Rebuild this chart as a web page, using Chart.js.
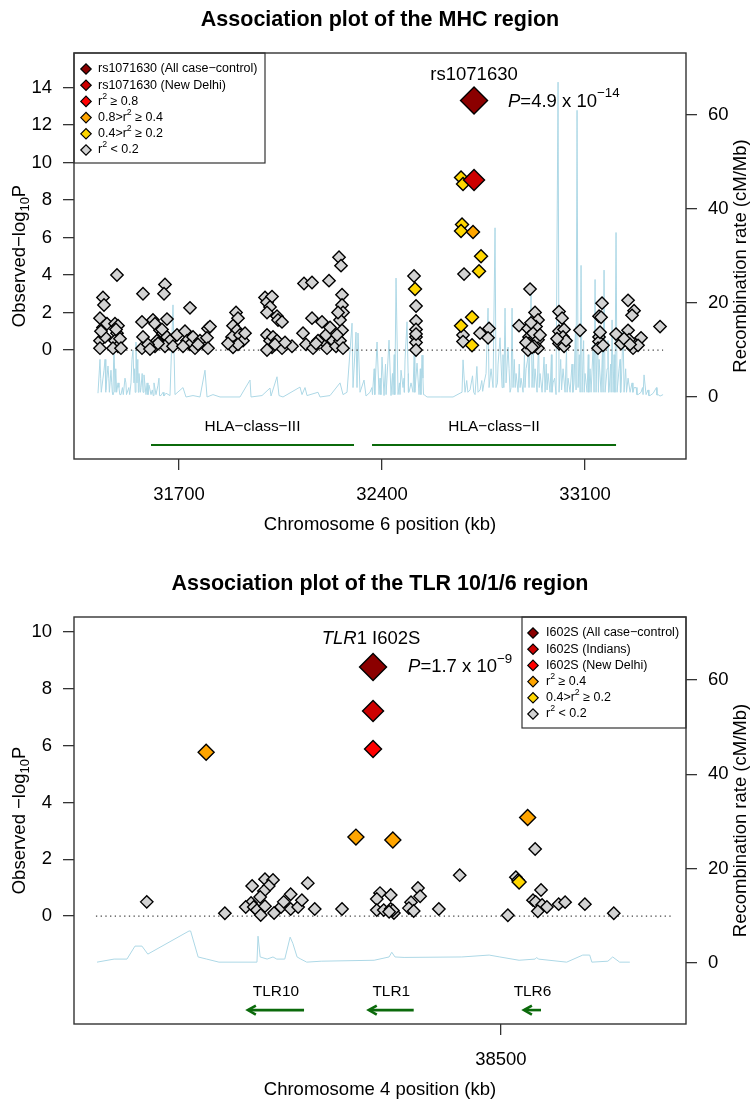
<!DOCTYPE html>
<html><head><meta charset="utf-8">
<script src="https://cdn.jsdelivr.net/npm/chart.js@4.4.1/dist/chart.umd.min.js"></script>
<style>html,body{margin:0;padding:0;background:#fff;}canvas{display:block;}</style>
</head><body>
<canvas id="c1" width="752" height="552"></canvas>
<canvas id="c2" width="752" height="552"></canvas>
<script>
// ================= DATA : MHC region (chromosome 6, kb / -log10P) =================
const mhcXTicks = [31700, 32400, 33100];
const mhcYTicks = [0, 2, 4, 6, 8, 10, 12, 14];
const mhcRecTicks = [0, 20, 40, 60];
const mhcLeadAll = [[32717.2, 13.31]];
const mhcLeadDelhi = [[32717.2, 9.07]];
const mhcR2High = [];
const mhcR2Mid = [[32713.7, 6.3]];
const mhcR2Low = [[32513.8,3.25],[32672.3,9.2],[32679.2,8.85],[32675.8,6.7],[32672.3,6.35],[32741.3,5.0],[32734.4,4.2],[32710.3,1.75],[32672.3,1.3],[32710.3,0.25]];
const mhcR2None = [
 [31427.6,1.7],[31437.9,2.8],[31441.4,2.4],[31427.6,0.5],[31437.9,1.2],[31427.6,0.1],[31444.8,0.7],[31431.0,1.0],[31451.7,1.4],
 [31486.2,4.0],[31479.3,1.4],[31489.7,1.3],[31486.2,0.9],[31479.3,0.5],[31489.7,0.2],[31472.4,0.1],[31482.8,1.1],[31496.6,0.6],[31500.0,0.1],
 [31575.9,3.0],[31572.4,1.5],[31575.9,0.7],[31572.4,0.1],[31610.3,1.6],[31617.2,1.4],[31624.1,0.5],[31617.2,0.2],[31651.7,3.5],[31648.3,3.0],
 [31658.6,1.65],[31634.5,1.05],[31644.8,0.9],[31658.6,0.7],[31669.0,0.5],[31651.7,0.2],[31679.3,0.2],[31641.4,1.1],[31627.6,0.35],[31693.1,0.8],[31593.1,0.3],[31600.0,0.05],
 [31737.9,2.25],[31720.7,1.0],[31727.6,0.5],[31737.9,0.3],[31748.3,0.7],[31755.2,0.1],[31713.8,0.2],[31772.4,0.5],[31800.0,1.15],[31806.9,1.25],[31796.6,0.65],[31800.0,0.1],[31765.5,0.3],
 [31896.6,2.0],[31903.4,1.7],[31886.2,1.3],[31900.0,1.05],[31882.8,0.7],[31910.3,0.8],[31920.7,0.5],[31886.2,0.15],[31903.4,0.3],[31869.0,0.35],[31927.6,0.9],
 [31996.6,2.8],[32003.4,2.55],[32020.7,2.85],[32013.8,2.3],[32003.4,2.0],[32037.9,1.8],[32041.4,1.6],[32055.2,1.5],[32003.4,0.8],[32013.8,0.5],[32024.1,0.7],[32037.9,0.5],
 [32020.7,0.15],[32055.2,0.1],[32089.6,0.2],[32003.4,0.0],[32031.0,0.3],[32065.5,0.4],
 [32131.0,3.55],[32158.6,3.6],[32217.2,3.7],[32251.7,4.95],[32258.6,4.5],[32127.6,0.9],[32137.9,0.3],[32158.6,1.7],[32162.1,0.1],[32193.1,1.5],[32196.6,0.5],
 [32206.9,0.8],[32220.7,1.2],[32210.3,0.1],[32231.0,0.5],[32241.4,0.2],[32262.1,2.95],[32262.1,2.4],[32265.5,2.0],[32255.2,1.6],[32262.1,1.05],[32255.2,0.5],
 [32265.5,0.1],[32248.3,2.0],[32244.8,0.8],[32179.3,0.5],[32172.4,0.35],
 [32510.3,3.95],[32517.2,2.35],[32517.2,1.55],[32517.2,1.1],[32517.2,0.7],[32517.2,0.4],[32517.2,0.0],[32517.2,0.85],
 [32682.7,4.05],[32679.2,0.8],[32679.2,0.45],[32737.9,0.9],[32768.9,1.15],[32765.5,0.65],
 [32910.3,3.25],[32872.3,1.3],[32903.4,1.15],[32906.8,0.7],[32906.8,0.35],[32903.4,0.0],[32927.5,2.0],[32937.8,1.6],[32931.0,1.25],[32920.6,0.9],[32937.8,0.55],
 [32937.8,0.1],[32913.7,1.45],[32924.1,0.2],[32944.7,0.8],[32896.5,0.4],[32917.2,0.15],
 [33010.2,2.05],[33020.6,1.7],[33010.2,1.0],[33027.5,1.1],[33024.0,0.7],[33010.2,0.35],[33027.5,0.2],[33034.4,0.5],[33003.4,0.6],[33082.6,1.05],
 [33158.5,2.5],[33148.2,1.8],[33155.1,1.75],[33148.2,0.7],[33148.2,0.45],[33144.7,0.1],[33162.0,0.25],[33151.6,0.95],
 [33248.2,2.65],[33268.9,2.1],[33262.0,1.85],[33206.8,0.85],[33248.2,1.05],[33224.0,0.35],[33251.6,0.55],[33265.4,0.1],[33293.0,0.65],[33282.6,0.25],[33358.5,1.25],[33234.4,0.6],[33255.1,0.3]
];
// recombination rate (kb, cM/Mb): main spikes
const mhcRecomb = [
 [31420.7,0.8],[31427.6,8],[31434.5,1],[31441.4,5.7],[31448.3,1.5],[31455.2,6.6],[31462.1,1],[31465.5,5.7],[31472.4,0.5],[31475.9,12],[31479.3,1],[31489.7,3],[31500.0,0.5],
 [31513.8,4],[31520.7,0.5],[31534.5,3],[31537.9,8],[31541.4,10],[31544.8,3],[31551.7,11.7],[31555.2,3],[31562.1,5],[31569.0,2],[31579.3,4.7],[31586.2,0.5],[31596.6,2.5],
 [31603.5,0.5],[31613.8,3],[31620.7,0.5],[31627.6,2.5],[31637.9,0.3],[31655.2,0.8],[31669.0,0.3],[31679.3,19.6],[31686.2,0.5],[31713.8,2],[31724.1,0],[31748.3,0.3],
 [31772.4,0],[31789.6,5.7],[31796.6,0],[31817.2,0.5],[31841.4,0],[31910.3,0],[31944.8,3.6],[31948.3,0],[31986.2,0.3],[32013.8,1.9],[32017.2,0.2],[32037.9,4.3],
 [32044.8,0.3],[32058.6,0],[32117.2,2.1],[32124.1,0.5],[32134.5,2],[32141.4,0.3],[32179.3,1],[32186.2,0],[32220.7,0.3],[32255.2,3],[32265.5,0.5],[32279.3,1],
 [32296.6,15.7],[32300.0,2],[32310.3,13.8],[32313.8,2],[32317.2,13.6],[32324.1,1],[32337.9,3.6],[32344.8,0.2],[32358.6,1],[32382.8,11.7],[32389.7,0.5],[32400.0,8.5],
 [32406.9,0.3],[32424.1,12.1],[32431.0,0.3],[32448.3,25.3],[32455.2,0.5],[32465.5,5.7],[32472.4,2],[32479.3,7.9],[32486.2,16],[32493.1,1],[32500.0,3],[32506.9,1],
 [32520.7,7.2],[32527.6,0.5],[32537.9,8.9],[32544.8,0.5],[32555.2,0],[32600,0],[32644.8,0],[32668.9,0.8],[32675.8,1],[32679.3,7.9],[32686.2,1],[32703.4,1.5],
 [32720.7,0.5],[32737.9,1.5],[32751.7,3],[32758.6,5],[32765.5,18.9],[32769.0,2],[32775.9,6],[32782.8,2],[32789.6,36],[32793.1,2],[32800.0,7],[32806.9,12.6],
 [32813.8,2],[32824.1,18.9],[32827.6,3],[32834.5,10.6],[32841.4,1],[32848.3,18.9],[32851.7,2],[32862.1,5],[32869.0,1],[32879.3,4],[32886.2,1],[32896.6,6],
 [32903.4,8.5],[32906.9,2],[32913.8,22],[32917.2,2],[32927.6,6],[32934.5,1],[32944.8,5],[32951.7,1],[32958.6,8.5],[32962.1,1],[32972.4,5],[32979.3,1],[32989.7,3],
 [33000,0.5],[33006.9,67],[33010.3,1],[33024.1,6],[33031.0,1],[33041.4,4],[33048.3,1],[33062.1,3],[33072.4,61],[33075.9,2],[33086.2,28],[33089.7,1],[33100,5],
 [33106.9,1],[33117.2,6],[33120.7,1],[33134.5,25],[33137.9,1],[33148.3,8],[33155.2,1],[33165.5,27],[33169.0,1],[33175.9,6],[33182.8,1],[33193.1,16.4],[33196.6,1],
 [33206.8,35],[33210.3,1],[33217.2,6],[33224.1,1],[33231.0,14.3],[33234.5,1],[33248.3,4],[33255.2,1],[33269.0,2],[33282.8,0.5],[33293.1,1],[33303.4,4.7],
 [33310.3,0.5],[33324.1,0.3],[33341.4,1.5],[33351.7,0.5],[33358.6,0.2],[33369.0,0.5]
];
// recombination rate (kb, cM/Mb): smaller spikes of the dense stretches
const mhcRecombMinor = [
 [31430,4],[31432,1],[31445,8],[31447,1],[31458,4],[31460,1],[31468,3],[31470,1],[31482,6],[31485,1],[31493,2],[31496,0.5],[31505,2],[31508,0.5],
 [31517,3],[31519,0.5],[31527,2],[31530,0.5],[31547,6],[31549,1],[31558,8],[31560,1],[31565,3],[31567,1],[31573,5],[31576,1],[31590,3],[31593,0.5],
 [31608,1.5],[31611,0.3],[31631,4],[31633,0.3],[31645,1],[31648,0.2],
 [32365,2],[32367,0.5],[32373,6],[32375,0.5],[32393,4],[32396,0.5],[32412,7],[32414,0.5],[32436,5],[32438,0.5],[32442,9],[32444,0.5],[32460,3],[32462,0.5],
 [32476,4],[32477,1],[32490,5],[32491,1],[32511,10],[32513,1],[32532,6],[32534,0.5],[32541,4],[32543,0.5],
 [32692,3.5],[32696,1],[32712,4.5],[32716,1],[32727,6.5],[32731,1],[32744,3.5],[32747,1.2],[32798,3],[32817,9],[32820,2],[32838,6],[32845,2],[32856,8],
 [32859,2],[32873,7],[32876,2],[32891,9],[32893,2],[32922,10],[32924,2],[32940,12],[32942,2],[32966,7],[32969,1.5],[32984,9],[32986,1],[32995,4],
 [33016,8],[33019,1.5],[33036,10],[33038,1],[33055,7],[33058,1],[33067,15],[33069,1.5],[33080,9],[33083,1],[33095,12],[33097,1],[33111,9],[33113,1],
 [33128,11],[33131,1],[33143,14],[33146,1],[33160,10],[33162,1],[33179,12],[33181,1],[33188,7],[33190,1],[33200,9],[33203,1],[33221,8],[33222,1],
 [33240,6],[33243,1],[33262,3],[33265,1],[33276,2],[33279,0.5],[33298,2],[33300,0.5],[33317,1.5],[33320,0.3],[33335,0.8],[33346,2],[33348,0.4]
];
const mhcGenes = [
 {name: 'HLA\u2212class\u2212III', start: 31603.5, end: 32303.4, strand: ''},
 {name: 'HLA\u2212class\u2212II', start: 32365.5, end: 33206.8, strand: ''}
];
const mhcLabels = ['rs1071630 (All case\u2212control)', 'rs1071630 (New Delhi)', 'r\u00b2 \u2265 0.8', '0.8>r\u00b2 \u2265 0.4', '0.4>r\u00b2 \u2265 0.2', 'r\u00b2 < 0.2'];

// ================= DATA : TLR 10/1/6 region (chromosome 4) =================
const tlrXTicks = [38500];
const tlrYTicks = [0, 2, 4, 6, 8, 10];
const tlrRecTicks = [0, 20, 40, 60];
const tlrLeadAll = [[38476.1, 8.77]];
const tlrLeadIndians = [[38476.1, 7.22]];
const tlrLeadDelhi = [[38476.1, 5.88]];
const tlrR2Mid = [[38444.9,5.77],[38472.9,2.78],[38479.8,2.68],[38505.0,3.47]];
const tlrR2Low = [[38503.4,1.2]];
const tlrR2None = [
 [38433.8,0.5],[38448.4,0.1],[38453.5,1.06],[38455.9,1.3],[38457.4,1.27],[38456.6,1.06],[38455.7,0.88],[38455.0,0.67],[38453.3,0.46],[38452.3,0.32],
 [38453.8,0.32],[38454.4,0.21],[38455.1,0.04],[38455.9,0.35],[38457.6,0.11],[38458.9,0.32],[38459.4,0.5],[38460.7,0.77],[38460.7,0.25],[38462.1,0.32],
 [38462.8,0.56],[38463.9,1.16],[38465.2,0.25],[38470.3,0.25],[38477.4,0.81],[38476.8,0.6],[38479.4,0.74],[38476.8,0.21],[38478.1,0.21],[38479.4,0.25],
 [38480.0,0.11],[38479.8,0.2],[38479.1,0.15],[38483.2,0.49],[38484.5,0.99],[38484.9,0.7],[38482.8,0.28],[38483.7,0.18],[38488.4,0.25],[38492.3,1.44],
 [38501.3,0.03],[38502.8,1.37],[38503.2,1.27],[38506.4,2.36],[38507.5,0.92],[38506.0,0.56],[38506.5,0.5],[38507.7,0.39],[38508.6,0.32],[38506.9,0.17],
 [38510.8,0.42],[38512.0,0.49],[38515.7,0.42],[38521.1,0.1]
];
const tlrRecomb = [
 [38424.5,0.2],[38427.7,0.85],[38430.1,0.85],[38431.6,3.6],[38432.9,3.6],[38434.0,1.9],[38441.7,6.8],[38442.0,6.8],[38443.4,1.3],[38445.0,0.85],[38447.3,0.2],
 [38454.4,0.2],[38454.6,5.7],[38455.0,1.3],[38456.3,0.85],[38457.4,1.3],[38458.1,0.85],[38459.6,0.85],[38460.6,5.5],[38461.1,4.2],[38461.9,1.3],[38462.6,0.85],
 [38463.7,0.2],[38466.4,0.4],[38476.3,0.6],[38479.1,1.3],[38479.6,2.3],[38480.2,1.3],[38481.9,1.2],[38492.7,1.3],[38497.8,1.7],[38499.8,1.3],[38503.4,0.6],
 [38506.4,0.85],[38506.7,1.2],[38507.0,0.85],[38512.3,0.2],[38515.3,1.7],[38516.6,1.7],[38517.0,0.2],[38520.0,0.4],[38520.9,1.3],[38522.2,0.2],[38524.1,0.2]
];
const tlrRecombMinor = [];
const tlrGenes = [
 {name: 'TLR10', start: 38452.7, end: 38463.2, strand: '-'},
 {name: 'TLR1', start: 38475.3, end: 38483.7, strand: '-'},
 {name: 'TLR6', start: 38504.3, end: 38507.5, strand: '-'}
];
const tlrLabels = ['I602S (All case\u2212control)', 'I602S (Indians)', 'I602S (New Delhi)', 'r\u00b2 \u2265 0.4', '0.4>r\u00b2 \u2265 0.2', 'r\u00b2 < 0.2'];

// ================= RENDERING =================
const FONT = "'Liberation Sans', Arial, Helvetica, sans-serif";
const COLORS = {darkred: '#8B0000', red3: '#CD0000', red: '#FF0000', orange: '#FFA500', gold: '#FFD700', grey: '#D3D3D3'};
const toXY = arr => arr.map(p => ({x: p[0], y: p[1]}));
const mergeSorted = (a, b) => a.concat(b).sort((p, q) => p[0] - q[0]);

function fontStr(size, style) { return (style || '') + ' ' + size + 'px ' + FONT; }
function rich(ctx, parts, x, y, align, size, rot) {
  ctx.save();
  ctx.translate(x, y);
  if (rot) ctx.rotate(rot);
  ctx.textBaseline = 'middle';
  ctx.textAlign = 'left';
  ctx.fillStyle = '#000';
  const meas = parts.map(p => {
    const s = (p.sup || p.sub) ? size * (p.scale || 0.72) : size;
    const f = fontStr(s, (p.it ? 'italic ' : '') + (p.b ? 'bold' : ''));
    ctx.font = f;
    return {f, w: ctx.measureText(p.t).width, dy: p.sup ? -size * 0.42 : (p.sub ? size * 0.3 : 0)};
  });
  const tot = meas.reduce((a, m) => a + m.w, 0);
  let cx = align === 'center' ? -tot / 2 : (align === 'right' ? -tot : 0);
  parts.forEach((p, i) => { ctx.font = meas[i].f; ctx.fillText(p.t, cx, meas[i].dy); cx += meas[i].w; });
  ctx.restore();
}
function labelParts(s) {
  const out = [];
  s.split('\u00b2').forEach((seg, i) => { if (i > 0) out.push({t: '2', sup: true, scale: 0.7}); if (seg) out.push({t: seg}); });
  return out;
}
function diamond(ctx, x, y, r, fill) {
  ctx.beginPath();
  ctx.moveTo(x - r, y); ctx.lineTo(x, y - r); ctx.lineTo(x + r, y); ctx.lineTo(x, y + r); ctx.closePath();
  ctx.fillStyle = fill; ctx.fill();
  ctx.strokeStyle = '#000'; ctx.lineWidth = 1.2; ctx.stroke();
}

const deco = {
  id: 'deco',
  afterDatasetsDraw(chart, args, o) {
    const {ctx, scales: {x, y}} = chart;
    ctx.save();
    o.genes.forEach(g => {
      const x1 = x.getPixelForValue(g.start), x2 = x.getPixelForValue(g.end);
      const ly = y.getPixelForValue(o.geneLineY), ty = y.getPixelForValue(o.geneLabelY);
      ctx.strokeStyle = '#0b6a0b';
      ctx.lineWidth = o.geneLW;
      ctx.lineCap = 'butt';
      ctx.beginPath(); ctx.moveTo(x1 + (g.strand === '-' ? 1 : 0), ly); ctx.lineTo(x2, ly); ctx.stroke();
      if (g.strand === '-') {
        ctx.beginPath();
        ctx.moveTo(x1 + 8, ly - 4.5); ctx.lineTo(x1, ly); ctx.lineTo(x1 + 8, ly + 4.5);
        ctx.stroke();
      }
      rich(ctx, [{t: g.name}], (x1 + x2) / 2, ty, 'center', o.geneFont);
    });
    ctx.restore();
  },
  afterDraw(chart, args, o) {
    const {ctx, chartArea: a, scales: {x, y}} = chart;
    ctx.save();
    // legend box
    const L = o.legend;
    const lx = L.right ? a.right - L.w : a.left;
    ctx.fillStyle = '#fff';
    ctx.fillRect(lx, a.top, L.w, L.h);
    ctx.strokeStyle = '#333'; ctx.lineWidth = 1.2;
    ctx.strokeRect(lx, a.top, L.w, L.h);
    chart.data.datasets.filter(d => d.inLegend).forEach((d, i) => {
      const yy = a.top + 16 + i * 16.2;
      diamond(ctx, lx + L.dx, yy, 5.2, d.backgroundColor);
      rich(ctx, labelParts(d.label), lx + 24, yy, 'left', 12.5);
    });
    // plot frame
    ctx.strokeStyle = '#333'; ctx.lineWidth = 1.4;
    ctx.strokeRect(a.left, a.top, a.right - a.left, a.bottom - a.top);
    // lead SNP annotation
    const lead = chart.data.datasets[0].data[0];
    const px = x.getPixelForValue(lead.x), py = y.getPixelForValue(lead.y);
    rich(ctx, o.leadName, px + o.nameDx, py + o.nameDy, 'center', 18.5);
    rich(ctx, o.pText, px + o.pDx, py + o.pDy, 'left', 18.5);
    // titles
    const cxm = (a.left + a.right) / 2, cym = (a.top + a.bottom) / 2;
    rich(ctx, [{t: o.title, b: true}], cxm, a.top - 33, 'center', 21.5);
    rich(ctx, [{t: o.xTitle}], cxm, a.bottom + 66, 'center', 18.5);
    rich(ctx, o.yTitle, 20, cym, 'center', 18.5, -Math.PI / 2);
    rich(ctx, [{t: 'Recombination rate (cM/Mb)'}], 741, cym, 'center', 18.5, -Math.PI / 2);
    ctx.restore();
  }
};

function axis(ticksArr, extra) {
  return Object.assign({
    type: 'linear',
    afterBuildTicks: s => { s.ticks = ticksArr.map(v => ({value: v})); },
    grid: {drawOnChartArea: false, drawTicks: true, tickLength: 11, color: '#333', lineWidth: 1.3},
    border: {display: false}
  }, extra);
}
function tickFont(pad) {
  return {font: {family: FONT, size: 18.5}, color: '#000', autoSkip: false, maxRotation: 0, minRotation: 0, padding: pad, callback: v => String(v)};
}
function ptSet(label, data, color, r, inLegend) {
  return {type: 'scatter', label, data: toXY(data), backgroundColor: color, borderColor: '#000', borderWidth: 1.4,
    pointStyle: 'rectRot', pointRadius: r, pointHoverRadius: r, yAxisID: 'y', inLegend};
}
function makeChart(id, cfg) {
  const ds = cfg.points.slice();
  ds.push({type: 'line', label: 'zero', data: toXY(cfg.zero), borderColor: '#444', borderWidth: 1.2, borderDash: [1.3, 3.4],
    pointRadius: 0, yAxisID: 'y', inLegend: false});
  ds.push({type: 'line', label: 'recomb', data: toXY(cfg.recomb), borderColor: '#ADD8E6', borderWidth: 1, pointRadius: 0,
    tension: 0, yAxisID: 'y2', inLegend: false});
  return new Chart(document.getElementById(id), {
    type: 'scatter',
    data: {datasets: ds},
    options: {
      responsive: false, animation: false, events: [],
      layout: {padding: {top: cfg.top, left: 0, right: 0, bottom: 0}},
      scales: {
        x: axis(cfg.xTicks, {min: cfg.xMin, max: cfg.xMax, position: 'bottom', afterFit: s => { s.height = cfg.xH; }, ticks: tickFont(14)}),
        y: axis(cfg.yTicks, {min: cfg.yMin, max: cfg.yMax, position: 'left', afterFit: s => { s.width = 74; }, ticks: tickFont(11)}),
        y2: axis(cfg.recTicks, {min: cfg.rMin, max: cfg.rMax, position: 'right', afterFit: s => { s.width = 66; }, ticks: tickFont(11)})
      },
      plugins: {legend: {display: false}, tooltip: {enabled: false}, title: {display: false}, deco: cfg.deco}
    },
    plugins: [deco]
  });
}

makeChart('c1', {
  top: 53, xH: 93,
  xMin: 31338, xMax: 33448, yMin: -5.81, yMax: 15.84, rMin: -13.2, rMax: 73.2,
  xTicks: mhcXTicks, yTicks: mhcYTicks, recTicks: mhcRecTicks,
  zero: [[31420.7, 0], [33369.0, 0]],
  recomb: mergeSorted(mhcRecomb, mhcRecombMinor),
  points: [
    ptSet(mhcLabels[0], mhcLeadAll, COLORS.darkred, 13.5, true),
    ptSet(mhcLabels[1], mhcLeadDelhi, COLORS.red3, 10.5, true),
    ptSet(mhcLabels[2], mhcR2High, COLORS.red, 6.5, true),
    ptSet(mhcLabels[3], mhcR2Mid, COLORS.orange, 6.5, true),
    ptSet(mhcLabels[4], mhcR2Low, COLORS.gold, 6.5, true),
    ptSet(mhcLabels[5], mhcR2None, COLORS.grey, 6.2, true)
  ],
  deco: {
    genes: mhcGenes, geneLineY: -5.07, geneLabelY: -4.1, geneLW: 2, geneFont: 15.4,
    legend: {w: 191, h: 110, right: false, dx: 12},
    leadName: [{t: 'rs1071630'}], nameDx: 0, nameDy: -26,
    pText: [{t: 'P', it: true}, {t: '=4.9 x 10'}, {t: '\u221214', sup: true, scale: 0.72}], pDx: 34, pDy: 1,
    title: 'Association plot of the MHC region', xTitle: 'Chromosome 6 position (kb)',
    yTitle: [{t: 'Observed\u2212log'}, {t: '10', sub: true, scale: 0.7}, {t: 'P'}]
  }
});

makeChart('c2', {
  top: 65, xH: 80,
  xMin: 38420.2, xMax: 38534.6, yMin: -3.80, yMax: 10.53, rMin: -12.9, rMax: 73.3,
  xTicks: tlrXTicks, yTicks: tlrYTicks, recTicks: tlrRecTicks,
  zero: [[38424.3, 0], [38531.8, 0]],
  recomb: mergeSorted(tlrRecomb, tlrRecombMinor),
  points: [
    ptSet(tlrLabels[0], tlrLeadAll, COLORS.darkred, 13.5, true),
    ptSet(tlrLabels[1], tlrLeadIndians, COLORS.red3, 10.5, true),
    ptSet(tlrLabels[2], tlrLeadDelhi, COLORS.red, 8.5, true),
    ptSet(tlrLabels[3], tlrR2Mid, COLORS.orange, 8, true),
    ptSet(tlrLabels[4], tlrR2Low, COLORS.gold, 7, true),
    ptSet(tlrLabels[5], tlrR2None, COLORS.grey, 6.2, true)
  ],
  deco: {
    genes: tlrGenes, geneLineY: -3.31, geneLabelY: -2.68, geneLW: 2.6, geneFont: 15.4,
    legend: {w: 164, h: 111, right: true, dx: 11},
    leadName: [{t: 'TLR', it: true}, {t: '1 I602S'}], nameDx: -2, nameDy: -28,
    pText: [{t: 'P', it: true}, {t: '=1.7 x 10'}, {t: '\u22129', sup: true, scale: 0.72}], pDx: 35, pDy: 0,
    title: 'Association plot of the TLR 10/1/6 region', xTitle: 'Chromosome 4 position (kb)',
    yTitle: [{t: 'Observed \u2212log'}, {t: '10', sub: true, scale: 0.7}, {t: 'P'}]
  }
});
</script>
</body></html>
